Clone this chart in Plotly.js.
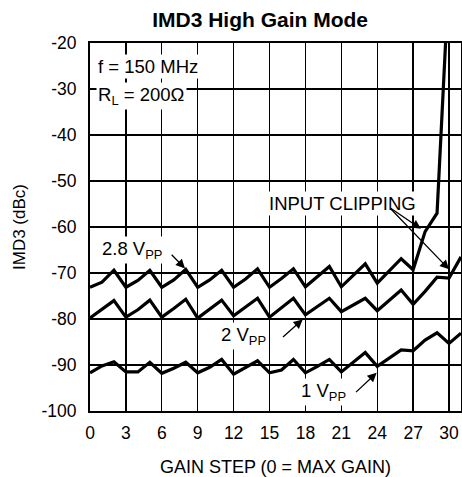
<!DOCTYPE html>
<html>
<head>
<meta charset="utf-8">
<script src="https://cdn.plot.ly/plotly-3.0.1.min.js"></script>
<style>html,body{margin:0;padding:0;background:#fff;}#chart{width:462px;height:477px;}</style>
</head>
<body>
<div id="chart"></div>
<script>
// Gain steps (x) and IMD3 values (dBc) per output level
const gainSteps = [0,1,2,3,4,5,6,7,8,9,10,11,12,13,14,15,16,17,18,19,20,21,22,23,24,25,26,27,28,29,30,31];
const imd3_2p8Vpp = [-73.1,-72,-69.4,-73.1,-71.6,-69.4,-73.1,-71.5,-69.2,-73.1,-71.5,-69.4,-73.1,-71.3,-69.1,-73.1,-71.2,-69.1,-73,-70.9,-68.6,-73,-70.5,-68,-72.2,-69.5,-66.9,-69.3,-61,-57,-5];
const imd3_2Vpp = [-79.8,-78,-76,-79.6,-78,-75.9,-79.6,-77.7,-75.7,-79.8,-77.8,-75.9,-79.3,-77.5,-75.5,-79.6,-77.5,-75.5,-79.1,-77.3,-75.5,-78.4,-77,-75.5,-78.2,-76,-73.7,-76.8,-74,-70.9,-71.1,-66.5];
const imd3_1Vpp = [-91.7,-90.2,-89.3,-91.5,-91.5,-89.4,-91.8,-90.7,-89.4,-91.7,-90.5,-88.8,-92,-90.5,-89.1,-91.7,-91.1,-88.8,-91.7,-90.3,-88.8,-91.5,-89.4,-87.3,-90.3,-88.5,-86.7,-86.9,-84.6,-83,-85.3,-83.1];
const xTicks = [0,3,6,9,12,15,18,21,24,27,30];
const yTicks = [-100,-90,-80,-70,-60,-50,-40,-30,-20];

const FONT = 'Liberation Sans, Arial, sans-serif';
const line = {color:'#000', width:3.2};
const traces = [
  {x: gainSteps.slice(0, imd3_2p8Vpp.length), y: imd3_2p8Vpp, mode:'lines', line: line, name:'2.8 VPP'},
  {x: gainSteps.slice(0, imd3_2Vpp.length), y: imd3_2Vpp, mode:'lines', line: line, name:'2 VPP'},
  {x: gainSteps.slice(0, imd3_1Vpp.length), y: imd3_1Vpp, mode:'lines', line: line, name:'1 VPP'}
];

const txt = (text, x, y, xanchor) => ({text, x, y, xref:'x', yref:'y', showarrow:false,
  xanchor: xanchor || 'center', yanchor:'middle', bgcolor:'#fff', borderpad:1,
  font:{family:FONT, size:18.5, color:'#000'}});
const arr = (x, y, ax, ay) => ({text:'', x, y, ax, ay, xref:'x', yref:'y', axref:'x', ayref:'y',
  showarrow:true, arrowhead:2, arrowsize:1.4, arrowwidth:1.3, arrowcolor:'#000', standoff:0, startstandoff:0});

const annotations = [
  txt('f = 150 MHz', 0.5, -25.1, 'left'),
  txt('R<sub>L</sub> = 200Ω', 0.5, -31.5, 'left'),
  txt('INPUT CLIPPING', 21.1, -54.8),
  txt('2.8 V<sub>PP</sub>', 3.55, -65),
  txt('2 V<sub>PP</sub>', 12.8, -83.8),
  txt('1 V<sub>PP</sub>', 19.55, -95.9),
  arr(27.65, -60.4, 25.0, -55.7),
  arr(30.0, -69.2, 25.0, -55.7),
  arr(7.94, -69.0, 6.7, -65.7),
  arr(17.77, -80.1, 16.0, -84.2),
  arr(23.95, -91.7, 22.1, -96.2)
];

const layout = {
  width:462, height:477,
  margin:{l:90, r:1, t:43, b:66},
  paper_bgcolor:'#fff', plot_bgcolor:'#fff',
  showlegend:false,
  title:{text:'<b>IMD3 High Gain Mode</b>', x:0.563, xanchor:'center', y:0.958, yanchor:'middle',
         font:{family:FONT, size:21, color:'#000'}},
  xaxis:{range:[0,31], tickvals:xTicks, ticktext:xTicks.map(String), showgrid:true, gridcolor:'#000', gridwidth:1.3,
         zeroline:false, showline:true, linecolor:'#000', linewidth:2, mirror:true, ticks:'', ticklabelstandoff:5,
         tickfont:{family:FONT, size:17.5, color:'#000'},
         title:{text:'GAIN STEP (0 = MAX GAIN)', standoff:18, font:{family:FONT, size:18, color:'#000'}}},
  yaxis:{range:[-100,-20], tickvals:yTicks, ticktext:yTicks.map(String), showgrid:true, gridcolor:'#000', gridwidth:1.3,
         zeroline:false, showline:true, linecolor:'#000', linewidth:2, mirror:true, ticks:'', ticklabelstandoff:8,
         tickfont:{family:FONT, size:17.5, color:'#000'},
         title:{text:'IMD3 (dBc)', standoff:12, font:{family:FONT, size:17, color:'#000'}}},
  annotations: annotations
};
Plotly.newPlot('chart', traces, layout, {staticPlot:true, displayModeBar:false});
</script>
</body>
</html>
